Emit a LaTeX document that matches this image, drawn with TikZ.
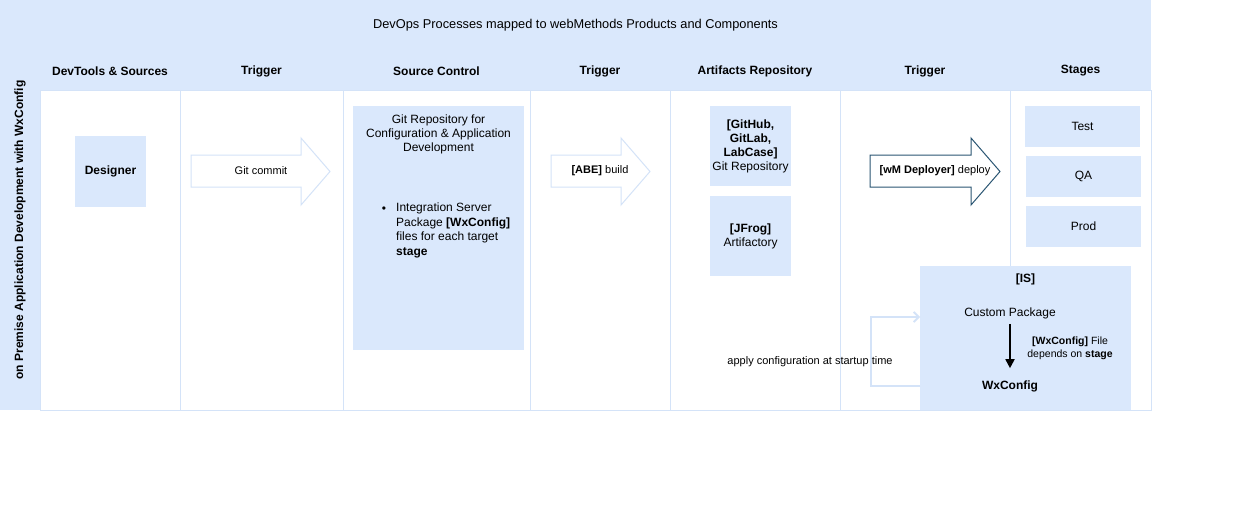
\documentclass[tikz,border=0pt]{standalone}
\usepackage{fontspec}
\setmainfont{Liberation Sans}
\usetikzlibrary{arrows.meta}
\definecolor{lanefill}{HTML}{DAE8FC}
\definecolor{laneline}{HTML}{D4E3F8}
\definecolor{deploy}{HTML}{2B5673}
\begin{document}
\begin{tikzpicture}[x=1pt,y=-1pt,
  every node/.style={font=\fontsize{12}{14}\selectfont, inner sep=2pt},
  header/.style={font=\fontsize{12}{14}\selectfont\bfseries},
  box/.style={fill=lanefill, draw=none, align=center},
  small/.style={font=\fontsize{11}{13}\selectfont},
  tiny/.style={font=\fontsize{10.5}{13}\selectfont, align=center},
  blockarrow/.style={draw=laneline, fill=white, line width=1pt},
  deployarrow/.style={draw=deploy, fill=white, line width=1pt},
  dep/.style={-{Triangle[length=9pt,width=9pt]}, line width=1.8pt, black},
  feedback/.style={-{Straight Barb[length=5pt,width=10pt]}, draw=laneline, line width=1.8pt}]

\useasboundingbox (0,0) rectangle (1236,523);

% pool and lanes
\fill[lanefill] (0,0) rectangle (1151,410);
\foreach \xa/\xb in {40/180,180/343,343/530,530/670,670/840,840/1010,1010/1151}
  \filldraw[fill=white, draw=laneline] (\xa,90) rectangle (\xb,410);

\node[font=\fontsize{12.8}{15}\selectfont] (title) at (575.5,25) {DevOps Processes mapped to webMethods Products and Components};
\node[header, rotate=90] (pool) at (20,230) {on Premise Application Development with WxConfig};
\foreach \xa/\xb/\lbl [count=\i] in {40/180/{DevTools \& Sources},180/343/Trigger,343/530/Source Control,530/670/Trigger,670/840/Artifacts Repository,840/1010/Trigger,1010/1151/Stages}
  \node[header] (head\i) at ({(\xa+\xb)/2},71) {\lbl};

% dev tools
\node[box, minimum width=71, minimum height=71, font=\fontsize{12}{14}\selectfont\bfseries] (designer) at (110.5,171.5) {Designer};

% triggers
\path[blockarrow] (191,155) -- (301,155) -- (301,138) -- (330,171.5) -- (301,205) -- (301,187) -- (191,187) -- cycle;
\node[small] (commit) at (261,171) {Git commit};
\path[blockarrow] (551,155) -- (621,155) -- (621,138) -- (650,171.5) -- (621,205) -- (621,187) -- (551,187) -- cycle;
\node[small] (build) at (600,171) {\textbf{[ABE]} build};
\path[deployarrow] (870,155) -- (971,155) -- (971,138) -- (1000,171.5) -- (971,205) -- (971,187) -- (870,187) -- cycle;
\node[small] (deployer) at (935,171) {\textbf{[wM Deployer]} deploy};

% source control
\node[box, minimum width=171, minimum height=244, anchor=north west] (gitrepo) at (353,106) {};
\node[align=center] (gitrepotxt) at (438.5,134) {Git Repository for\\Configuration \& Application\\Development};
\node (bullet) at (384,210) {\textbullet};
\node[align=left, anchor=north west, inner sep=0pt, font=\fontsize{12}{14.5}\selectfont] (gitrepolist) at (396,203) {Integration Server\\Package \textbf{[WxConfig]}\\files for each target\\\textbf{stage}};

% artifacts
\node[box, minimum width=81, minimum height=80] (github) at (750.5,146) {\textbf{[GitHub,}\\\textbf{GitLab,}\\\textbf{LabCase]}\\Git Repository};
\node[box, minimum width=81, minimum height=80] (jfrog) at (750.5,236) {\textbf{[JFrog]}\\Artifactory};

% stages
\node[box, minimum width=115, minimum height=41] (test) at (1082.5,126.5) {Test};
\node[box, minimum width=115, minimum height=41] (qa) at (1083.5,176.5) {QA};
\node[box, minimum width=115, minimum height=41] (prod) at (1083.5,226.5) {Prod};

% integration server
\node[box, minimum width=211, minimum height=144, anchor=north west] (isbox) at (920,266) {};
\node[font=\fontsize{12}{14}\selectfont\bfseries] (istitle) at (1025.5,279) {[IS]};
\node (cpkg) at (1010,313) {Custom Package};
\node[font=\fontsize{12}{14}\selectfont\bfseries] (wxcfg) at (1010,386) {WxConfig};
\draw[dep, shorten <=3pt, shorten >=10pt] (cpkg) -- (wxcfg);
\node[tiny] (deplbl) at (1070,348) {\textbf{[WxConfig]} File\\depends on \textbf{stage}};

% apply configuration loop
\coordinate (fbout) at (920,386);
\coordinate (fbin) at (920,317);
\draw[feedback] (fbout) -- ++(-49,0) |- (fbin);
\node[font=\fontsize{11}{13}\selectfont] (applylbl) at (810,362) {apply configuration at startup time};
\end{tikzpicture}
\end{document}
